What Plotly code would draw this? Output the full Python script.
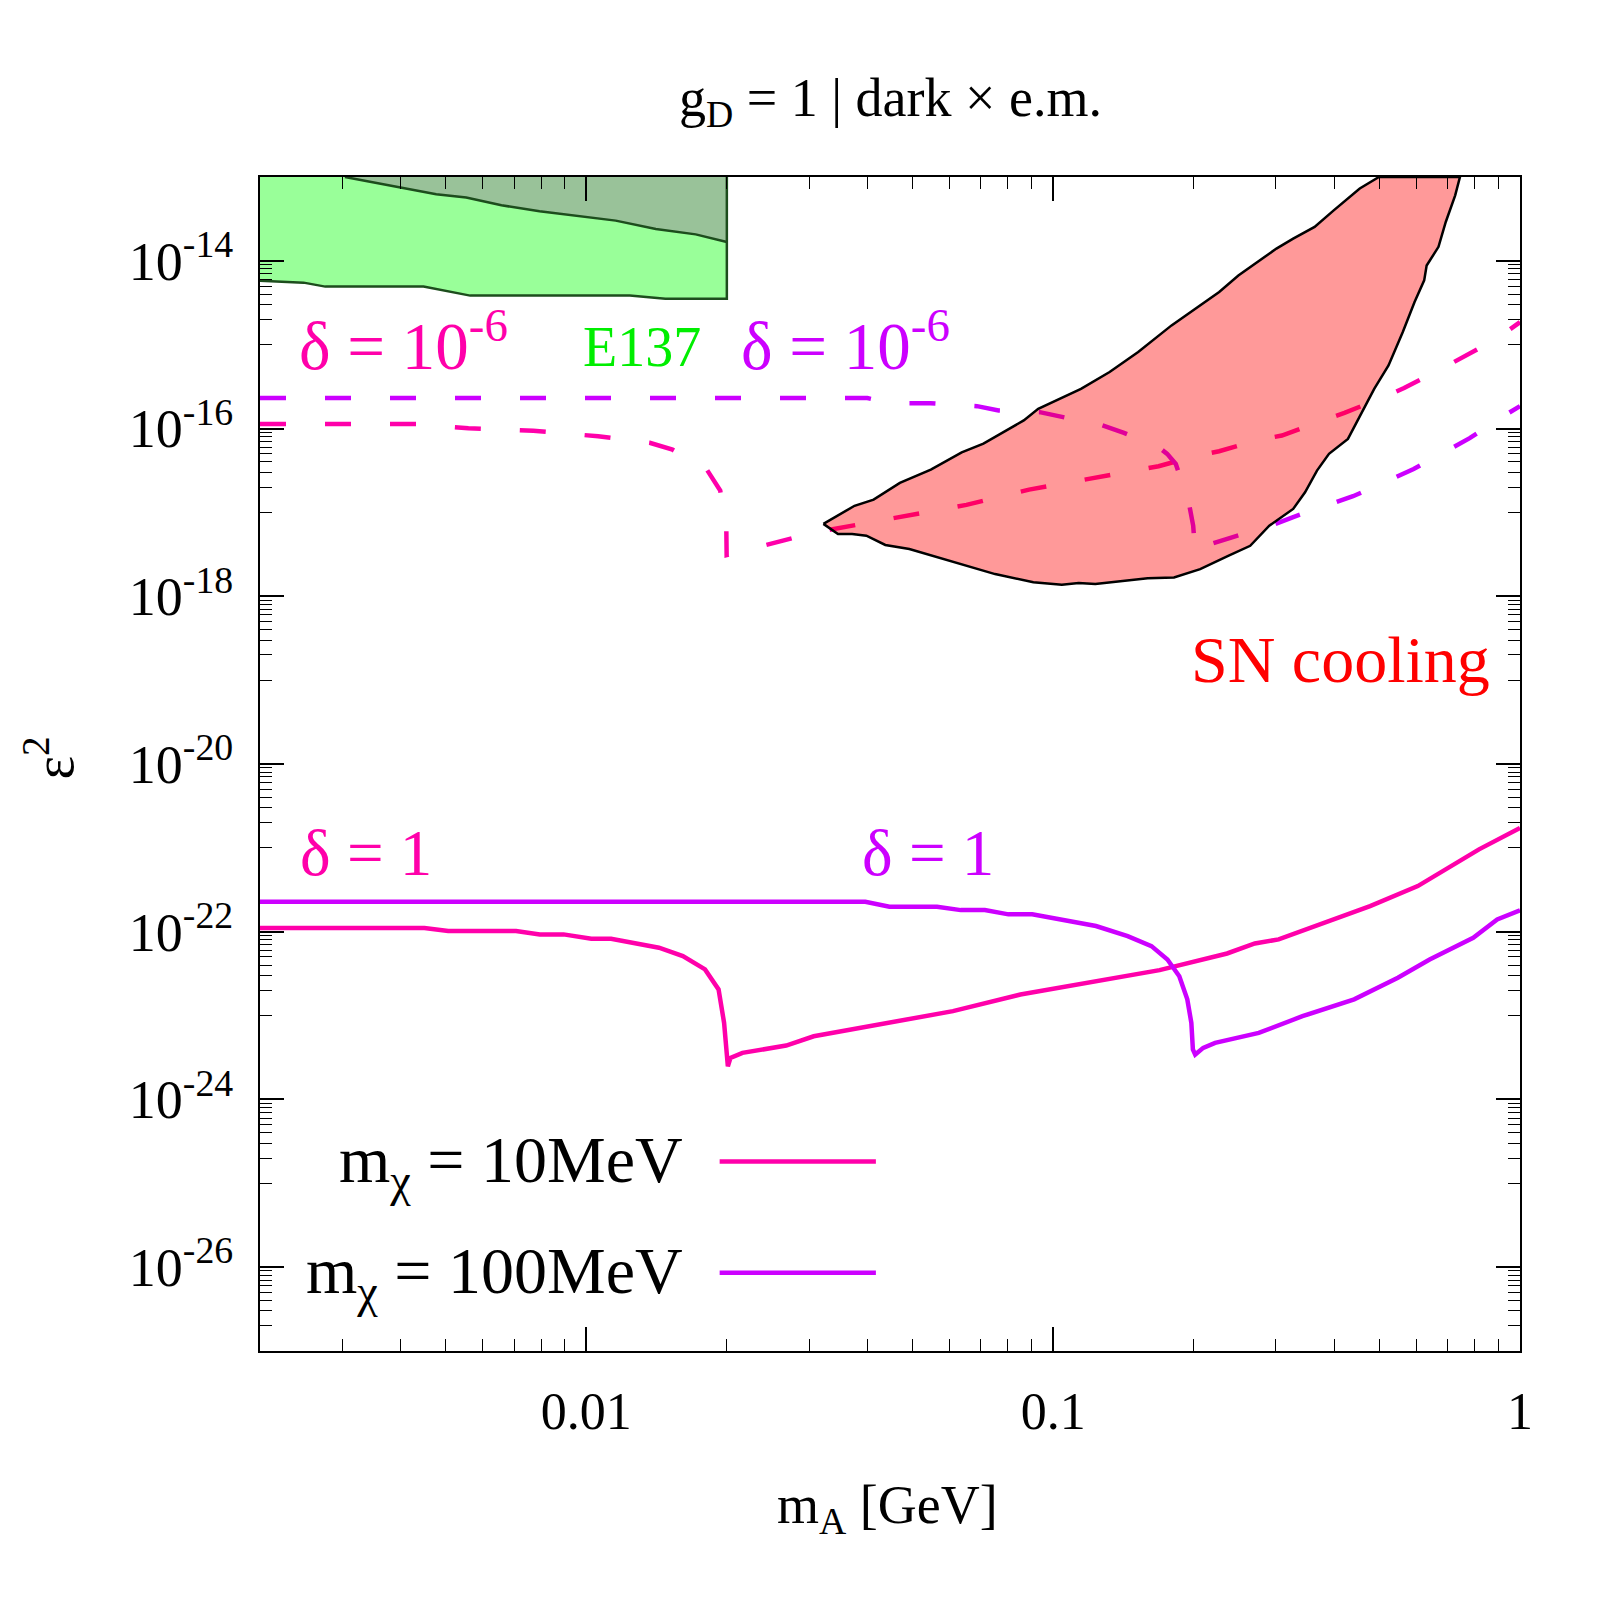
import plotly.graph_objects as go

# ---------------- data ----------------
# m_chi = 10 MeV, delta = 1 (solid pink)
x_p1 = [0.002, 0.0045, 0.00506, 0.00707, 0.00795, 0.00894, 0.01025, 0.0113, 0.01431, 0.0161,
        0.01796, 0.0192, 0.01973, 0.0201, 0.02036, 0.0216, 0.0268, 0.0307, 0.061, 0.0851,
        0.169, 0.2096, 0.2358, 0.2704, 0.3041, 0.4774, 0.604, 0.817, 1.0]
y_p1 = [1.11e-22, 1.11e-22, 1.02e-22, 1.02e-22, 9.29e-23, 9.29e-23, 8.24e-23, 8.24e-23, 6.44e-23, 5.12e-23,
        3.55e-23, 2.05e-23, 8.2e-24, 2.48e-24, 3.13e-24, 3.59e-24, 4.39e-24, 5.66e-24, 1.13e-23, 1.78e-23,
        3.48e-23, 4.75e-23, 5.5e-23, 7.25e-23, 8.09e-23, 2.02e-22, 3.5e-22, 9.6e-22, 1.73e-21]

# m_chi = 100 MeV, delta = 1 (solid purple)
x_v1 = [0.002, 0.0396, 0.0446, 0.0564, 0.0634, 0.0714, 0.0802, 0.0902, 0.1235, 0.1444,
        0.1624, 0.1757, 0.1863, 0.1938, 0.1977, 0.1992, 0.2015, 0.2096, 0.2223, 0.2757,
        0.342, 0.4413, 0.5476, 0.6404, 0.794, 0.8936, 1.0]
y_v1 = [2.28e-22, 2.28e-22, 1.99e-22, 1.99e-22, 1.81e-22, 1.81e-22, 1.61e-22, 1.61e-22, 1.17e-22, 8.86e-23,
        6.73e-23, 4.67e-23, 2.95e-23, 1.56e-23, 8.19e-24, 3.94e-24, 3.43e-24, 4.12e-24, 4.73e-24, 6.22e-24,
        9.82e-24, 1.56e-23, 2.82e-23, 4.67e-23, 8.47e-23, 1.4e-22, 1.8e-22]

# m_chi = 10 MeV, delta = 1e-6 (dashed pink)
x_p6 = [0.002, 0.00434, 0.00559, 0.0077, 0.0106, 0.01367, 0.0153, 0.01812, 0.01936, 0.01995,
        0.01998, 0.0228, 0.0257, 0.031, 0.0425, 0.0478, 0.0585, 0.0652, 0.0798, 0.0888,
        0.1087, 0.1222, 0.1496, 0.1682, 0.2038, 0.2267, 0.2776, 0.309, 0.378, 0.4207,
        0.5075, 0.5646, 0.675, 0.7477, 0.8967, 1.0]
y_p6 = [1.13e-16, 1.13e-16, 1.01e-16, 9.4e-17, 8.1e-17, 6.76e-17, 5.6e-17, 3.24e-17, 1.82e-17, 6.06e-18,
        3.1e-18, 3.73e-18, 4.4e-18, 5.8e-18, 7.98e-18, 9.0e-18, 1.08e-17, 1.23e-17, 1.62e-17, 1.87e-17,
        2.29e-17, 2.58e-17, 3.15e-17, 3.56e-17, 4.76e-17, 5.37e-17, 7.4e-17, 8.26e-17, 1.25e-16, 1.54e-16,
        2.33e-16, 3.04e-16, 5.07e-16, 6.93e-16, 1.2e-15, 1.86e-15]

# m_chi = 100 MeV, delta = 1e-6 (dashed purple)
x_v6 = [0.002, 0.04, 0.045, 0.0546, 0.0687, 0.0764, 0.0936, 0.1052, 0.1275, 0.1418,
        0.1682, 0.1755, 0.1831, 0.1952, 0.1995, 0.2015, 0.2149, 0.2416, 0.2927, 0.3257,
        0.3945, 0.4389, 0.532, 0.5918, 0.7094, 0.7802, 0.926, 1.0]
y_v6 = [2.31e-16, 2.31e-16, 2.01e-16, 2.01e-16, 1.85e-16, 1.64e-16, 1.57e-16, 1.37e-16, 1.09e-16, 8.9e-17,
        6.0e-17, 4.99e-17, 3.79e-17, 1.32e-17, 6.95e-18, 3.4e-18, 4.12e-18, 5.05e-18, 6.95e-18, 8.75e-18,
        1.26e-17, 1.56e-17, 2.51e-17, 3.3e-17, 5.73e-17, 7.7e-17, 1.43e-16, 1.85e-16]

# SN cooling region (closed outline)
x_sn = [0.0322, 0.03754, 0.04125, 0.04695, 0.0547, 0.0637, 0.0709, 0.0865, 0.0929, 0.1147,
        0.1321, 0.1521, 0.1793, 0.2268, 0.2493, 0.3008, 0.3267, 0.3631, 0.399, 0.4537,
        0.4987, 0.7437, 0.7264, 0.6934, 0.669, 0.631, 0.6234, 0.5945, 0.561, 0.5228,
        0.4872, 0.4537, 0.428, 0.3898, 0.3674, 0.3464, 0.3267, 0.2904, 0.2643, 0.2377,
        0.2065, 0.1815, 0.1594, 0.1231, 0.1134, 0.1044, 0.0907, 0.0751, 0.0652, 0.0541,
        0.0492, 0.0437, 0.0398, 0.0371, 0.0346, 0.0322]
y_sn = [7.3e-18, 1.2e-17, 1.42e-17, 2.25e-17, 3.24e-17, 5.2e-17, 6.6e-17, 1.25e-16, 1.72e-16, 2.98e-16,
        4.72e-16, 8.17e-16, 1.7e-15, 4.25e-15, 6.7e-15, 1.4e-14, 1.84e-14, 2.54e-14, 4.0e-14, 7.3e-14,
        1.0e-13, 1.0e-13, 6.05e-14, 2.91e-14, 1.47e-14, 8.8e-15, 5.85e-15, 3.23e-15, 1.42e-15, 5.65e-16,
        2.98e-16, 1.37e-16, 7.53e-17, 4.99e-17, 3.15e-17, 1.74e-17, 1.1e-17, 6.95e-18, 4.0e-18, 3.05e-18,
        2.11e-18, 1.68e-18, 1.64e-18, 1.4e-18, 1.44e-18, 1.37e-18, 1.47e-18, 1.84e-18, 2.32e-18, 3.1e-18,
        3.66e-18, 4.09e-18, 5.28e-18, 5.53e-18, 5.53e-18, 7.3e-18]

# E137 region: lower boundary and upper (darker) boundary
x_e137_low = [0.002, 0.00248, 0.00276, 0.00448, 0.00564, 0.01239, 0.01477, 0.02]
y_e137_low = [5.8e-15, 5.5e-15, 4.93e-15, 4.93e-15, 3.85e-15, 3.85e-15, 3.54e-15, 3.54e-15]
x_e137_up = [0.00304, 0.00402, 0.00477, 0.00553, 0.00658, 0.00794, 0.00982, 0.01156, 0.01409, 0.01715, 0.02]
y_e137_up = [1.0e-13, 7.4e-14, 6.22e-14, 5.69e-14, 4.6e-14, 3.9e-14, 3.34e-14, 3.02e-14, 2.4e-14, 2.07e-14, 1.68e-14]
x_top, y_top = 0.02, 1e-13
x_left, y_left = 0.002, 1e-13

x_major = [0.01, 0.1, 1]
x_major_text = ["0.01", "0.1", "1"]
y_major = [1e-26, 1e-24, 1e-22, 1e-20, 1e-18, 1e-16, 1e-14]
y_major_text = ["10<sup>-26</sup>", "10<sup>-24</sup>", "10<sup>-22</sup>", "10<sup>-20</sup>",
                "10<sup>-18</sup>", "10<sup>-16</sup>", "10<sup>-14</sup>"]
x_minor = [k * 10.0 ** d for d in (-3, -2, -1) for k in range(2, 10)]
y_minor = [k * 10.0 ** d for d in (-27, -25, -23, -21, -19, -17, -15) for k in range(1, 10)]

# ---------------- colours ----------------
PINK = "#ff00aa"
PURPLE = "#cc00ff"
LIGHTGREEN = "#99ff99"
DARKGREEN = "#99c299"
GREENLINE = "#1d4d1d"
FONT = "Liberation Serif, Times New Roman, serif"

fig = go.Figure()

# E137 light region
fig.add_trace(go.Scatter(
    x=x_e137_low + [x_top, x_left], y=y_e137_low + [y_top, y_left],
    fill="toself", fillcolor=LIGHTGREEN, mode="none", hoverinfo="skip", showlegend=False))
# darker region above upper boundary
fig.add_trace(go.Scatter(
    x=x_e137_up + [x_top], y=y_e137_up + [y_top],
    fill="toself", fillcolor=DARKGREEN, mode="none", hoverinfo="skip", showlegend=False))
# boundaries
fig.add_trace(go.Scatter(x=x_e137_low + [x_top], y=y_e137_low + [y_top], mode="lines",
                         line=dict(color=GREENLINE, width=2.5), hoverinfo="skip", showlegend=False))
fig.add_trace(go.Scatter(x=x_e137_up, y=y_e137_up, mode="lines",
                         line=dict(color=GREENLINE, width=2.5), hoverinfo="skip", showlegend=False))

# curves
fig.add_trace(go.Scatter(x=x_p6, y=y_p6, mode="lines",
                         line=dict(color=PINK, width=4.5, dash="26px,39px"), showlegend=False))
fig.add_trace(go.Scatter(x=x_v6, y=y_v6, mode="lines",
                         line=dict(color=PURPLE, width=4.5, dash="26px,39px"), showlegend=False))
fig.add_trace(go.Scatter(x=x_p1, y=y_p1, mode="lines",
                         line=dict(color=PINK, width=4.5), showlegend=False))
fig.add_trace(go.Scatter(x=x_v1, y=y_v1, mode="lines",
                         line=dict(color=PURPLE, width=4.5), showlegend=False))

# SN cooling region on top, translucent
fig.add_trace(go.Scatter(x=x_sn, y=y_sn, mode="lines", fill="toself",
                         fillcolor="rgba(255,0,0,0.4)", line=dict(color="black", width=2.5),
                         hoverinfo="skip", showlegend=False))

axis_common = dict(
    type="log", showline=True, linecolor="black", linewidth=2, mirror="allticks",
    ticks="inside", ticklen=24, tickwidth=1.5, tickcolor="black", showgrid=False, zeroline=False,
)
fig.update_xaxes(**axis_common, range=[-2.69897, 0], tickmode="array", tickvals=x_major,
                 ticktext=x_major_text, ticklabelstandoff=14,
                 tickfont=dict(family=FONT, size=52, color="black"),
                 minor=dict(tickmode="array", tickvals=x_minor, ticks="inside", ticklen=12,
                            tickwidth=1.2, tickcolor="black", showgrid=False))
fig.update_yaxes(**axis_common, range=[-27, -13], tickmode="array", tickvals=y_major,
                 ticktext=y_major_text, ticklabelstandoff=14,
                 tickfont=dict(family=FONT, size=54, color="black"),
                 minor=dict(tickmode="array", tickvals=y_minor, ticks="inside", ticklen=12,
                            tickwidth=1.2, tickcolor="black", showgrid=False))

def ann(text, x, y, size, color="black", xanchor="left", yanchor="middle", angle=0):
    fig.add_annotation(text=text, x=x, y=y, xref="paper", yref="paper", showarrow=False,
                       xanchor=xanchor, yanchor=yanchor, textangle=angle,
                       font=dict(family=FONT, size=size, color=color))

ann("g<sub>D</sub> = 1 | dark × e.m.", 0.5, 1.064, 54, xanchor="center")
ann("m<sub>A</sub> [GeV]", 0.498, -0.134, 54, xanchor="center")
ann("ε<sup>2</sup>", -0.1667, 0.5055, 56, xanchor="center", angle=-90)

ann("δ = 10<sup>-6</sup>", 0.029, 0.860, 67, color=PINK)
ann("E137", 0.255, 0.8552, 56, color="#00ee00")
ann("δ = 10<sup>-6</sup>", 0.380, 0.860, 67, color=PURPLE)
ann("δ = 1", 0.030, 0.4246, 65, color=PINK)
ann("δ = 1", 0.476, 0.4246, 65, color=PURPLE)
ann("SN cooling", 0.9778, 0.5886, 66, color="#ff0000", xanchor="right")

# legend
ann("m<sub>χ</sub> = 10MeV", 0.3373, 0.1588, 66, xanchor="right")
ann("m<sub>χ</sub> = 100MeV", 0.3373, 0.0643, 66, xanchor="right")
fig.add_shape(type="line", xref="paper", yref="paper", x0=0.3648, x1=0.4888, y0=0.1614, y1=0.1614,
              line=dict(color=PINK, width=4.5))
fig.add_shape(type="line", xref="paper", yref="paper", x0=0.3648, x1=0.4888, y0=0.0666, y1=0.0666,
              line=dict(color=PURPLE, width=4.5))

fig.update_layout(width=1600, height=1600, autosize=False,
                  margin=dict(l=252, r=88, t=169, b=257),
                  paper_bgcolor="white", plot_bgcolor="white", showlegend=False)

fig.write_html("out.html")
